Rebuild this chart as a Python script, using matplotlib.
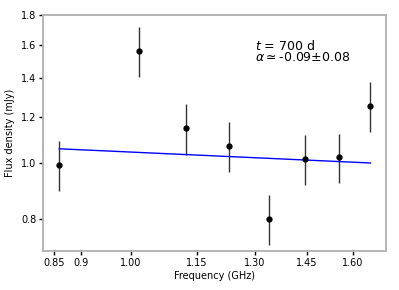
import numpy as np
import matplotlib.pyplot as plt

# measured flux densities (log-log plot)
freq = [0.859, 1.016, 1.124, 1.231, 1.338, 1.446, 1.553, 1.660]
flux = [0.992, 1.562, 1.147, 1.070, 0.800, 1.016, 1.022, 1.253]
flux_err = [0.100, 0.155, 0.115, 0.105, 0.080, 0.100, 0.100, 0.124]

# power-law fit end points
fit_freq = [0.859, 1.660]
fit_flux = [1.057, 0.999]

xticks = [0.85, 0.9, 1.0, 1.15, 1.3, 1.45, 1.6]
xlabels = ['0.85', '0.9', '1.00', '1.15', '1.30', '1.45', '1.60']
yticks = [0.8, 1.0, 1.2, 1.4, 1.6, 1.8]
ylabels = ['0.8', '1.0', '1.2', '1.4', '1.6', '1.8']

fig = plt.figure(figsize=(3.99, 2.90), dpi=100)
ax = fig.add_axes([0.108, 0.1345, 0.859, 0.814])

ax.errorbar(freq, flux, yerr=flux_err, fmt='o', color='black', ms=3.5,
            ecolor='#333333', elinewidth=1.0, capsize=0)
ax.plot(fit_freq, fit_flux, color='blue', lw=1.0)

ax.set_xscale('log')
ax.set_yscale('log')
ax.set_xlim(0.83, 1.715)
ax.set_ylim(0.704, 1.8)
ax.minorticks_off()
ax.set_xticks(xticks)
ax.set_xticklabels(xlabels)
ax.set_yticks(yticks)
ax.set_yticklabels(ylabels)
ax.tick_params(labelsize=7, length=3, width=1, pad=2, top=False, right=False)

for s in ax.spines.values():
    s.set_color('#b0b0b0')
    s.set_linewidth(1.3)

ax.set_xlabel('Frequency (GHz)', fontsize=7, labelpad=2)
ax.set_ylabel('Flux density (mJy)', fontsize=7, labelpad=4)

ax.text(0.619, 0.792, '$t$ = 700 d\n$\\alpha\\simeq$-0.09\u00b10.08',
        transform=ax.transAxes, fontsize=9, linespacing=0.8, va='bottom')

fig.savefig('out.png', dpi=100)
